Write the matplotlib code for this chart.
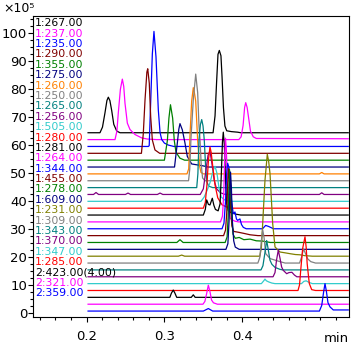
import numpy as np
import matplotlib
matplotlib.use("Agg")
import matplotlib.pyplot as plt
from matplotlib.ticker import MultipleLocator

# noms des traces (de haut en bas)
labels = ["1:267.00", "1:237.00", "1:235.00", "1:290.00", "1:355.00", "1:275.00",
          "1:260.00", "1:250.00", "1:265.00", "1:256.00", "1:505.00", "1:280.00",
          "1:281.00", "1:264.00", "1:344.00", "1:455.00", "1:278.00", "1:609.00",
          "1:231.00", "1:309.00", "1:343.00", "1:370.00", "1:347.00", "1:285.00",
          "2:423.00(4.00)", "2:321.00", "2:359.00"]

couleurs = ["#000000", "#ff00ff", "#0000ff", "#800000", "#008000", "#000080",
            "#ff8000", "#808080", "#008080", "#800080", "#33cccc", "#ff0000",
            "#000000", "#ff00ff", "#0000ff", "#800000", "#008000", "#000080",
            "#808000", "#808080", "#008080", "#800080", "#33cccc", "#ff0000",
            "#000000", "#ff00ff", "#0000ff"]

# points : (temps en min, intensite x10^5 au-dessus de la base)
p267 = [(0.202,0),(0.2173,0),(0.2205,2),(0.2237,7.1),(0.2262,11.5),(0.2280,12.7),(0.2300,11.5),(0.2323,8),(0.2350,3),(0.2388,0.6),(0.243,0),
        (0.3625,0),(0.365,6),(0.367,18),(0.3688,28),(0.3705,29.4),(0.3726,27.5),(0.374,20),(0.3758,9),(0.3777,2.4),(0.380,0.7),(0.386,0.4),(0.394,0.2),(0.398,0),(0.536,0)]
p237 = [(0.202,0),(0.2366,0),(0.2390,3),(0.2408,9.5),(0.2435,18),(0.2460,21.6),(0.2478,19),(0.2494,13),(0.2524,5.9),(0.2558,3.6),(0.2623,1.8),(0.2709,0.6),(0.278,0.2),(0.290,0),
        (0.3955,0),(0.3985,1),(0.4010,5),(0.4030,11.5),(0.4044,13.2),(0.4062,11.5),(0.4085,7),(0.4105,3),(0.4141,1),(0.418,0.4),(0.536,0.3)]
p235 = [(0.202,0),(0.2795,0),(0.2805,0.3),(0.2824,16),(0.2845,33),(0.2866,41.1),(0.2892,32),(0.2922,13),(0.2944,5),(0.2965,2.5),(0.300,1.2),(0.305,0.5),(0.312,0),(0.536,0)]
p290 = [(0.202,0),(0.2705,0),(0.2729,7),(0.2751,19),(0.2775,29),(0.2786,30.2),(0.2806,25),(0.2824,13),(0.2845,4.8),(0.2879,1.2),(0.294,0),(0.536,0)]
p355 = [(0.202,0),(0.300,0),(0.3038,7),(0.3058,15),(0.3078,19.8),(0.3106,15),(0.3127,7),(0.3149,2.8),(0.320,0.7),(0.326,0),(0.536,0)]
p275 = [(0.202,0),(0.3130,0),(0.3166,8.6),(0.3185,13.5),(0.3200,15.5),(0.3230,13.3),(0.3264,8.6),(0.3294,3.8),(0.335,1.1),(0.350,0.4),(0.356,0),(0.536,0)]
p260 = [(0.202,0),(0.3290,0),(0.3312,1.8),(0.3329,14),(0.3350,26),(0.3371,30.8),(0.3385,29),(0.3402,26),(0.3418,17),(0.3427,12),(0.3450,3),(0.3470,0.5),(0.350,0),
        (0.499,0),(0.502,0.5),(0.505,0),(0.536,0)]
p250 = [(0.202,0),(0.3310,0),(0.3325,4),(0.3341,15),(0.3371,29),(0.3402,38.1),(0.3427,31.5),(0.3444,19.6),(0.3457,14.9),(0.3472,6),(0.3490,1),(0.352,0),(0.536,0)]
p265 = [(0.202,0),(0.3415,0),(0.3430,5),(0.3444,17),(0.3462,22.5),(0.3479,24.3),(0.3496,22),(0.3512,17),(0.3528,8),(0.3545,2),(0.357,0.5),(0.362,0),(0.536,0)]
p256 = [(0.202,0),(0.209,0),(0.2122,0.7),(0.2155,0),(0.250,0),(0.2533,0.5),(0.2565,0),(0.291,0),(0.2944,0.5),(0.298,0),
        (0.3460,0),(0.3500,2),(0.3530,8),(0.3560,14),(0.3585,15.5),(0.3610,11),(0.3640,5),(0.3670,2),(0.3720,0.6),(0.378,0),
        (0.499,0),(0.502,0.6),(0.505,0),(0.536,0)]
p505 = [(0.202,0),(0.347,0),(0.351,1.5),(0.355,4),(0.359,7),(0.3625,11),(0.3650,12.5),(0.3675,10),(0.370,5),(0.373,1.5),(0.378,0.4),(0.385,0),(0.536,0)]
p280 = [(0.202,0),(0.3500,0),(0.3525,2),(0.3545,8),(0.3565,17),(0.3585,21.9),(0.3600,20),(0.3625,14),(0.3650,8.3),(0.3685,3.7),(0.3740,1.2),(0.380,0.4),(0.386,0),(0.536,0)]
p281 = [(0.202,0),(0.3500,0),(0.3525,2),(0.3543,5.4),(0.3565,3.8),(0.3585,3.6),(0.3615,6),(0.3635,3.5),(0.3655,2),(0.3690,1.5),
        (0.3715,4),(0.3730,14),(0.3745,26),(0.3756,29.6),(0.3770,25),(0.3785,12),(0.3800,4),(0.3820,1.5),(0.386,0.8),(0.392,0.3),(0.398,0),(0.536,0)]
p264 = [(0.202,0),(0.3720,0),(0.3745,2),(0.3762,10),(0.3775,24),(0.3784,29.9),(0.3795,26),(0.3808,14),(0.3825,4),(0.3845,1.2),(0.390,0.3),(0.395,0),(0.536,0)]
p344 = [(0.202,0),(0.3740,0),(0.3765,2),(0.3785,10),(0.3800,20),(0.3812,23.4),(0.3828,22),(0.3842,18.5),(0.3862,10),(0.3884,5.4),(0.3906,6),(0.3925,3.5),
        (0.3940,3),(0.3970,3.5),(0.3990,1.5),(0.4013,0.5),(0.405,0),(0.4260,0),(0.4300,1.2),(0.4340,0.8),(0.440,0),(0.536,0)]
p455 = [(0.202,0),(0.3760,0),(0.3785,2),(0.3800,8),(0.3812,18),(0.3823,23.9),(0.3835,20),(0.3850,10),(0.3866,3.5),(0.3890,1.5),(0.3950,1.2),(0.402,0.8),(0.410,0.3),(0.420,0),(0.536,0)]
p278 = [(0.202,0),(0.316,0),(0.320,1),(0.324,0),(0.3780,0),(0.3805,2),(0.3818,9),(0.3828,20),(0.3836,26),(0.3848,22),(0.3862,11),(0.3880,3),(0.3910,1.5),
        (0.396,1.8),(0.402,1.0),(0.410,1.2),(0.418,0.6),(0.426,0.5),(0.436,0),(0.536,0)]
p609 = [(0.202,0),(0.3790,0),(0.3815,2),(0.3830,10),(0.3842,22),(0.3849,27.6),(0.3860,22),(0.3873,10),(0.3890,3),(0.3910,0.8),(0.396,0),(0.536,0)]
p231 = [(0.202,0),(0.318,0),(0.3222,0.4),(0.326,0),(0.4225,0),(0.4245,3),(0.4262,11.7),(0.4291,27),(0.4321,36.4),(0.4338,34),(0.4356,29.5),(0.4390,11.7),
        (0.4420,3.3),(0.4484,1.5),(0.4550,1.2),(0.4612,0.9),(0.4680,0.6),(0.4740,0.5),(0.4800,0.2),(0.490,0),(0.536,0)]
p309 = [(0.202,0),(0.4200,0),(0.4225,2),(0.4245,8),(0.4262,11.9),(0.4280,9),(0.4300,3.4),(0.4356,1.6),(0.4484,0.5),(0.455,0),
        (0.4735,0),(0.4760,2),(0.4786,5),(0.4810,3.5),(0.4840,1.5),(0.488,0.5),(0.494,0),(0.536,0)]
p343 = [(0.202,0),(0.4240,0),(0.4265,1.5),(0.4290,6),(0.4313,10.5),(0.4335,7),(0.4355,3.5),(0.4380,2),(0.4420,0.9),(0.4484,0.2),(0.452,0),(0.536,0)]
p370 = [(0.202,0),(0.4395,0),(0.4420,1.5),(0.4440,6),(0.4462,9.5),(0.4485,6.5),(0.4505,3.5),(0.4526,2.3),(0.4570,1.1),(0.4599,1.5),(0.4637,1.6),(0.4670,0.6),(0.4700,0),(0.536,0)]
p347 = [(0.202,0),(0.4245,0),(0.4275,1),(0.4291,1.6),(0.4310,1),(0.4340,0.6),(0.4380,0.2),(0.442,0),(0.476,0),(0.4790,0.8),(0.4820,1.0),(0.4860,0.4),(0.490,0),(0.536,0)]
p285 = [(0.202,0),(0.4715,0),(0.4735,2),(0.4750,7.2),(0.4775,15),(0.4805,19.2),(0.4820,15.5),(0.4833,9.6),(0.4860,2.5),(0.4891,0.3),(0.494,0),(0.536,0)]
p423 = [(0.202,0),(0.3070,0),(0.3090,1.5),(0.3114,2.6),(0.3135,1.5),(0.3158,0),(0.3345,0),(0.3371,0.9),(0.3395,0),(0.536,0)]
p321 = [(0.202,0),(0.3495,0),(0.3520,1),(0.3540,3.5),(0.3564,6.8),(0.3585,4.5),(0.3605,1.5),(0.3630,0.5),(0.368,0),(0.536,0)]
p359 = [(0.202,0),(0.3500,0),(0.3564,0.9),(0.3620,0),(0.4990,0),(0.5020,2),(0.5045,7),(0.5062,9.8),(0.5080,7),(0.5100,3),(0.5126,1.5),(0.5168,0.4),(0.536,0.4)]

traces = [p267, p237, p235, p290, p355, p275, p260, p250, p265, p256, p505, p280,
          p281, p264, p344, p455, p278, p609, p231, p309, p343, p370, p347, p285,
          p423, p321, p359]

# decalage vertical entre les traces
base0 = 0.8
pas = 2.45
n = len(traces)

fig = plt.figure(figsize=(3.6, 3.46), dpi=100)
ax = fig.add_axes([33/360, 1 - 317/346, 316/360, 301/346])

for i, (pts, c) in enumerate(zip(traces, couleurs)):
    t = np.array(pts)
    ax.plot(t[:, 0], t[:, 1] + base0 + pas * (n - 1 - i), color=c, lw=0.9)

# etiquettes a gauche
for i, (lab, c) in enumerate(zip(labels, couleurs)):
    ypx = 23.3 + i * 10.385
    ax.text(2/316, (317 - ypx)/301, lab, color=c, fontsize=7.8,
            ha='left', va='center', transform=ax.transAxes)

ax.set_xlim(0.1313, 0.537)
ax.set_ylim(-1.32, 106.2)
ax.set_xticks([0.2, 0.3, 0.4])
ax.set_xticklabels(["0.2", "0.3", "0.4"])
ax.xaxis.set_minor_locator(MultipleLocator(0.02))
ax.yaxis.set_major_locator(MultipleLocator(10))
ax.yaxis.set_minor_locator(MultipleLocator(2.5))
ax.tick_params(axis='both', which='major', direction='out', length=3.6, width=0.8, labelsize=9.5)
ax.tick_params(axis='both', which='minor', direction='out', length=2.2, width=0.8)
ax.tick_params(axis='y', which='major', pad=0.5)
ax.tick_params(axis='x', which='major', pad=6)
for s in ax.spines.values():
    s.set_linewidth(0.8)

ax.text(1.0, (317 - 338)/301, "min", fontsize=9.5, ha='right', va='center', transform=ax.transAxes)
fig.text(3/360, 1 - 9/346, "×10⁵", fontsize=9, ha='left', va='center')

fig.savefig("out.png", dpi=100)
